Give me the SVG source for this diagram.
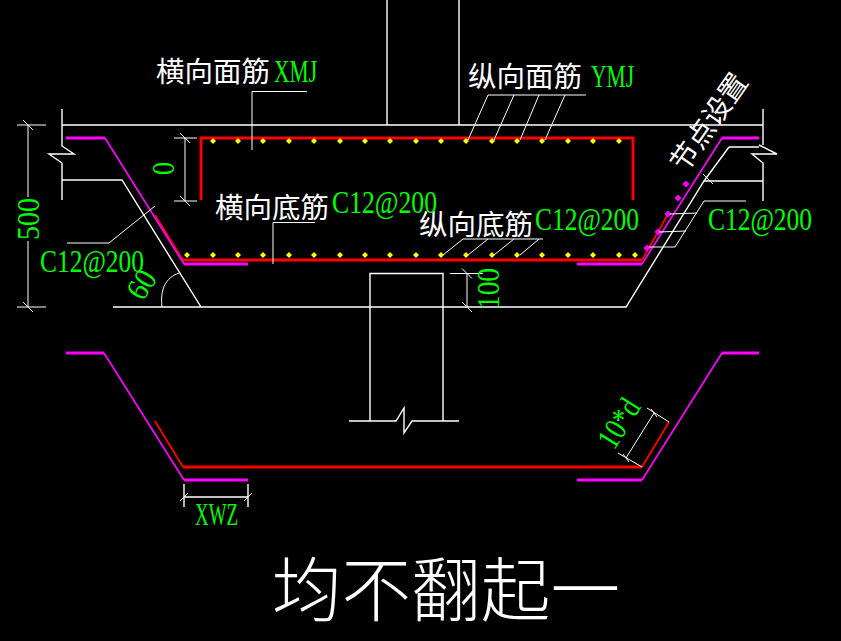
<svg xmlns="http://www.w3.org/2000/svg" width="841" height="641" viewBox="0 0 841 641">
<style>
.w{fill:none;stroke:#fff;stroke-width:1.4}
.t{fill:none;stroke:#fff;stroke-width:1}
.r{fill:none;stroke:#f00;stroke-width:3}
.r2{fill:none;stroke:#f00;stroke-width:1.8}
.m{fill:none;stroke:#f0f;stroke-width:3}
.m2{fill:none;stroke:#f0f;stroke-width:1.7}
.g{fill:#0f0;font-family:"Liberation Serif",serif;font-size:32px}
.c{fill:#fff;font-family:"Noto Sans CJK SC","Noto Sans",sans-serif;font-size:28.5px;font-weight:400}
.h{font-weight:300;font-size:70px}
</style>
<defs>
<path id="y" d="M0-3L3 0L0 3L-3 0Z" fill="#ff0"/>
<path id="p" d="M0-3.500L3.500 0L0 3.500L-3.500 0Z" fill="#f0f"/>
<path id="k" d="M-5-5L5 5" class="t"/>
</defs>
<rect width="841" height="641" fill="#000"/>
<g id="outline">
<path class="w" d="M387 0V125M459 0V125M62 125H763"/>
<path class="w" d="M62 109V146L74 154H49L62 163V200M62 180H122L201 307M113 307H626L704 181H763"/>
<path class="w" d="M763 109V145M759 145L777 154H752L763 163V201M729 147H759M729 147L704 181"/>
<path class="w" d="M370 307V273.500H443V421M370 307V421M349 421H396L404 408V433L412 421H459"/>
</g>
<g id="rebar-top">
<path class="r" d="M201 200V138H633V200"/>
<path class="r" d="M183 260H642"/>
<path class="r2" d="M155 215L183 260M642 260L668 214"/>
<path class="m" d="M66 138H105M184 264H248M577 264H642M722 138H759"/>
<path class="m2" d="M105 138L184 264M642 264L722 138"/>
</g>
<g id="dots">
<use href="#y" x="213" y="141"/><use href="#y" x="238" y="141"/><use href="#y" x="263" y="141"/><use href="#y" x="289" y="141"/><use href="#y" x="314" y="141"/><use href="#y" x="340" y="141"/><use href="#y" x="365" y="141"/><use href="#y" x="390" y="141"/><use href="#y" x="416" y="141"/><use href="#y" x="441" y="141"/><use href="#y" x="466" y="141"/><use href="#y" x="492" y="141"/><use href="#y" x="517" y="141"/><use href="#y" x="542" y="141"/><use href="#y" x="568" y="141"/><use href="#y" x="593" y="141"/><use href="#y" x="619" y="141"/>
<use href="#y" x="187" y="255"/><use href="#y" x="213" y="255"/><use href="#y" x="238" y="255"/><use href="#y" x="263" y="255"/><use href="#y" x="289" y="255"/><use href="#y" x="314" y="255"/><use href="#y" x="340" y="255"/><use href="#y" x="365" y="255"/><use href="#y" x="390" y="255"/><use href="#y" x="416" y="255"/><use href="#y" x="441" y="255"/><use href="#y" x="466" y="255"/><use href="#y" x="492" y="255"/><use href="#y" x="517" y="255"/><use href="#y" x="542" y="255"/><use href="#y" x="568" y="255"/><use href="#y" x="593" y="255"/><use href="#y" x="619" y="255"/><use href="#y" x="635" y="255"/>
<use href="#p" x="686" y="184"/><use href="#p" x="678" y="198"/><use href="#p" x="668" y="214"/><use href="#p" x="658" y="232"/><use href="#p" x="647" y="248"/>
</g>
<g id="leaders">
<path class="t" d="M252 150V91.500H307M273 264V222.500H315"/>
<path class="t" d="M488 95H586M488 95L468 140M514 95L494 140M539 95L520 140M565 95L545 140"/>
<path class="t" d="M463 239H543M463 239L443 255M488 239L468 255M514 239L494 255M539 239L520 255"/>
<path class="t" d="M67 243H109L155 206"/>
<path class="t" d="M746 201H704L675 247H649M670 214L697 213M659 232L686 231"/>
<path class="t" d="M162 307C160 290 165 278 179 273"/>
</g>
<g id="dimensions">
<path class="t" d="M17 125H46M17 307H46M28 125V197M28 241V307"/>
<use href="#k" x="28" y="125"/><use href="#k" x="28" y="307"/>
<path class="t" d="M174 138H197M174 201H197M185 138V201"/>
<use href="#k" x="185" y="138"/><use href="#k" x="185" y="201"/>
<path class="t" d="M450 273.500H483M467 273.500V307"/>
<use href="#k" x="467" y="273.500"/><use href="#k" x="467" y="307"/>
<use href="#k" x="708" y="179"/>
</g>
<g id="rebar-bottom">
<path class="r" d="M183 467H642"/>
<path class="r2" d="M155 421L183 467M642 467L669 422"/>
<path class="m" d="M66 353H104M184 480H248M577 480H642M722 353H759"/>
<path class="m2" d="M104 353L184 480M642 480L722 353"/>
<path class="w" d="M184 484V507M248 484V507M184 497H248"/>
<path class="t" d="M180 501L188 493M244 501L252 493"/>
<path class="t" d="M642 467L618 453M669 422L647 408M626 458L654 413M623 454L629 462M651 409L657 417"/>
</g>
<g id="labels">
<text class="c" x="156" y="82" textLength="114" lengthAdjust="spacingAndGlyphs">横向面筋</text>
<text class="c" x="468" y="87" textLength="114" lengthAdjust="spacingAndGlyphs">纵向面筋</text>
<text class="c" x="215" y="218" textLength="114" lengthAdjust="spacingAndGlyphs">横向底筋</text>
<text class="c" x="419" y="235" textLength="114" lengthAdjust="spacingAndGlyphs">纵向底筋</text>
<text class="c" transform="translate(717 128) rotate(-55)" text-anchor="middle" style="font-size:28px">节点设置</text>
<text class="g" x="274" y="82" textLength="43" lengthAdjust="spacingAndGlyphs">XMJ</text>
<text class="g" x="591" y="87" textLength="43" lengthAdjust="spacingAndGlyphs">YMJ</text>
<text class="g" x="332" y="213" textLength="105" lengthAdjust="spacingAndGlyphs">C12@200</text>
<text class="g" x="535" y="230" textLength="104" lengthAdjust="spacingAndGlyphs">C12@200</text>
<text class="g" x="708" y="230" textLength="104" lengthAdjust="spacingAndGlyphs">C12@200</text>
<text class="g" x="40" y="272" textLength="104" lengthAdjust="spacingAndGlyphs">C12@200</text>
<text class="g" x="195" y="525" textLength="43" lengthAdjust="spacingAndGlyphs">XWZ</text>
<text class="g" transform="translate(39 240) rotate(-90)" textLength="42" lengthAdjust="spacingAndGlyphs">500</text>
<text class="g" transform="translate(174 175) rotate(-90)" textLength="13" lengthAdjust="spacingAndGlyphs">0</text>
<text class="g" transform="translate(499 309) rotate(-90)" textLength="41" lengthAdjust="spacingAndGlyphs">100</text>
<text class="g" transform="translate(143 302) rotate(-58)" textLength="28" lengthAdjust="spacingAndGlyphs">60</text>
<text class="g" transform="translate(614 451) rotate(-58)" textLength="52" lengthAdjust="spacingAndGlyphs">10*d</text>
<text class="c h" x="272" y="616" textLength="348" lengthAdjust="spacingAndGlyphs">均不翻起一</text>
</g>
</svg>
